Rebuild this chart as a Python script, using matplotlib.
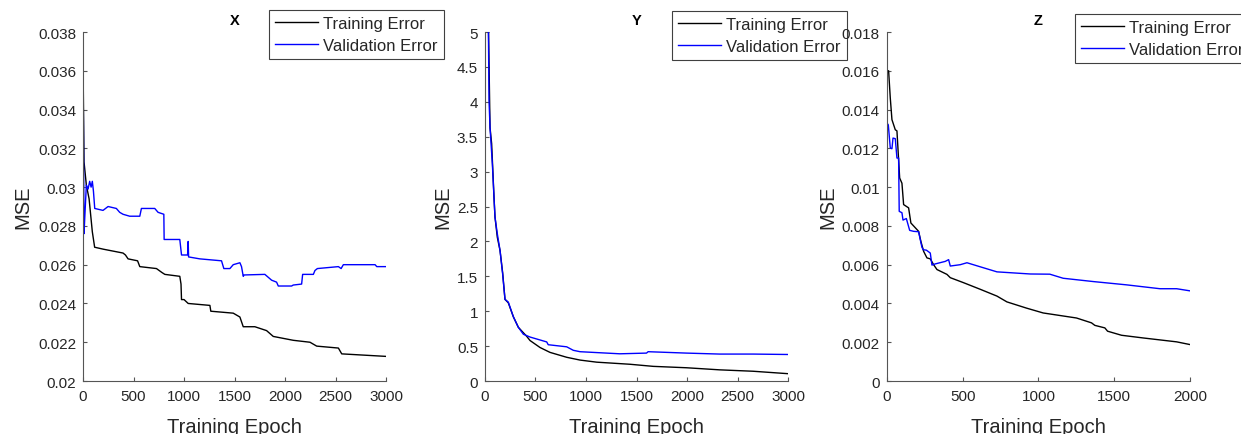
import matplotlib
matplotlib.use('Agg')
import matplotlib.pyplot as plt
from matplotlib.ticker import FuncFormatter

plt.rcParams['font.family'] = ['Liberation Sans', 'DejaVu Sans']

# ---- data ----
x_train_epoch = [0, 3, 10, 33, 60, 92, 115, 200, 396, 420, 446, 540, 562, 727, 780, 810, 958, 970, 975,
                 1000, 1041, 1256, 1265, 1487, 1553, 1586, 1701, 1817, 1883, 2081, 2247, 2313, 2528,
                 2561, 3000]
x_train_mse = [0.0364, 0.0349, 0.0313, 0.0301, 0.0294, 0.0277, 0.0269, 0.0268, 0.0266, 0.0265, 0.0263,
               0.0262, 0.0259, 0.0258, 0.0256, 0.0255, 0.0254, 0.0250, 0.0242, 0.0242, 0.0240, 0.0239,
               0.0236, 0.0235, 0.0233, 0.0228, 0.0228, 0.0226, 0.0223, 0.0221, 0.0220, 0.0218, 0.0217,
               0.0214, 0.02127]
x_val_epoch = [0, 2, 10, 17, 33, 50, 66, 80, 92, 103, 116, 198, 248, 330, 363, 396, 462, 562, 578, 710,
               743, 800, 803, 958, 975, 1035, 1041, 1045, 1156, 1371, 1394, 1454, 1487, 1553, 1569,
               1586, 1595, 1800, 1867, 1916, 1933, 2065, 2081, 2164, 2174, 2280, 2296, 2320, 2528,
               2555, 2577, 2891, 2908, 3000]
x_val_mse = [0.0277, 0.0349, 0.0276, 0.0284, 0.0301, 0.0299, 0.0303, 0.0300, 0.0303, 0.0298, 0.0289,
             0.0288, 0.0290, 0.0289, 0.0287, 0.0286, 0.0285, 0.0285, 0.0289, 0.0289, 0.0287, 0.0286,
             0.0273, 0.0273, 0.0265, 0.0265, 0.0272, 0.0264, 0.0263, 0.0262, 0.0258, 0.0258, 0.0260,
             0.0261, 0.0259, 0.0254, 0.02547, 0.0255, 0.0252, 0.0251, 0.0249, 0.0249, 0.02495, 0.0250,
             0.0255, 0.0255, 0.0257, 0.0258, 0.0259, 0.0258, 0.0260, 0.0260, 0.0259, 0.0259]

y_train_epoch = [33, 50, 66, 89, 99, 122, 149, 175, 198, 231, 281, 330, 413, 446, 545, 644, 809, 941,
                 1106, 1436, 1665, 1995, 2324, 2654, 3000]
y_train_mse = [5.2, 3.63, 3.40, 2.64, 2.35, 2.06, 1.87, 1.55, 1.17, 1.12, 0.92, 0.77, 0.64, 0.58, 0.48,
               0.41, 0.34, 0.30, 0.27, 0.24, 0.21, 0.19, 0.16, 0.14, 0.105]
y_val_epoch = [33, 40, 50, 73, 89, 99, 122, 149, 175, 198, 231, 281, 330, 380, 446, 611, 626, 809, 874,
               941, 1335, 1599, 1615, 1995, 2324, 2654, 3000]
y_val_mse = [5.2, 4.02, 3.63, 3.11, 2.64, 2.35, 2.11, 1.87, 1.53, 1.17, 1.13, 0.92, 0.77, 0.67, 0.63,
             0.56, 0.52, 0.49, 0.44, 0.42, 0.39, 0.40, 0.42, 0.40, 0.386, 0.386, 0.38]

z_train_epoch = [0, 11, 22, 33, 55, 66, 84, 99, 110, 143, 158, 209, 224, 242, 264, 286, 308, 330, 396,
                 418, 506, 616, 726, 792, 921, 1031, 1251, 1350, 1372, 1438, 1456, 1548, 1692, 1912,
                 2000]
z_train_mse = [0.0160, 0.0160, 0.0146, 0.01348, 0.01296, 0.01290, 0.01047, 0.0102, 0.0091, 0.00893,
               0.00815, 0.00772, 0.0072, 0.00669, 0.00635, 0.0063, 0.0060, 0.00575, 0.0055, 0.00533,
               0.00507, 0.00473, 0.00438, 0.00408, 0.00376, 0.00351, 0.00325, 0.0030, 0.00287,
               0.00274, 0.00257, 0.00236, 0.00222, 0.00202, 0.00188]
z_val_epoch = [0, 9, 22, 33, 40, 55, 66, 77, 81, 99, 106, 128, 150, 176, 209, 220, 231, 240, 260, 286,
               297, 319, 385, 407, 418, 484, 528, 616, 726, 946, 1075, 1163, 1361, 1581, 1802, 1912,
               2000]
z_val_mse = [0.01331, 0.01321, 0.01202, 0.01198, 0.01253, 0.01250, 0.0115, 0.0115, 0.00875, 0.00868,
             0.0083, 0.00838, 0.00777, 0.00772, 0.0077, 0.00729, 0.0069, 0.00677, 0.00675, 0.0066,
             0.00598, 0.00604, 0.00617, 0.00626, 0.00593, 0.006, 0.0061, 0.00589, 0.00563, 0.00552,
             0.00551, 0.0053, 0.00513, 0.00496, 0.00476, 0.00476, 0.00465]

titles = ['X', 'Y', 'Z']
x_ticks = [[0, 500, 1000, 1500, 2000, 2500, 3000],
           [0, 500, 1000, 1500, 2000, 2500, 3000],
           [0, 500, 1000, 1500, 2000]]
y_ticks = [[0.02 + 0.002 * i for i in range(10)],
           [0.5 * i for i in range(11)],
           [0.002 * i for i in range(10)]]

panels = [
    (x_train_epoch, x_train_mse, x_val_epoch, x_val_mse),
    (y_train_epoch, y_train_mse, y_val_epoch, y_val_mse),
    (z_train_epoch, z_train_mse, z_val_epoch, z_val_mse),
]

ax_left = [0.0669, 0.3908, 0.7147]
ylabel_x = [-0.168, -0.109, -0.165]
legend_anchor = [(0.2168, 0.9747), (0.5415, 0.9724), (0.8662, 0.9655)]

dark = '#262626'
fig = plt.figure(figsize=(12.41, 4.35), dpi=100)

for i in range(3):
    ax = fig.add_axes([ax_left[i], 0.1218, 0.2442, 0.8023])
    te, tm, ve, vm = panels[i]
    ax.plot(te, tm, color='black', lw=1.0, label='Training Error')
    ax.plot(ve, vm, color='#0000ff', lw=1.0, label='Validation Error')

    ax.set_xlim(x_ticks[i][0], x_ticks[i][-1])
    ax.set_ylim(y_ticks[i][0], y_ticks[i][-1])
    ax.set_xticks(x_ticks[i])
    ax.set_yticks(y_ticks[i])
    ax.yaxis.set_major_formatter(FuncFormatter(lambda v, p: '%g' % round(v, 6)))

    for s in ['top', 'right']:
        ax.spines[s].set_visible(False)
    for s in ['left', 'bottom']:
        ax.spines[s].set_color('#555555')
        ax.spines[s].set_linewidth(0.8)
    ax.tick_params(direction='in', length=3, width=0.8, color='#555555', labelcolor=dark,
                   labelsize=11)
    ax.tick_params(axis='x', pad=6)
    ax.tick_params(axis='y', pad=5)

    ax.set_xlabel('Training Epoch', fontsize=14.5, color=dark)
    ax.set_ylabel('MSE', fontsize=14.5, color=dark)
    ax.xaxis.set_label_coords(0.5, -0.103)
    ax.yaxis.set_label_coords(ylabel_x[i], 0.5)
    ax.set_title(titles[i], fontsize=10.5, fontweight='bold', pad=6)

    leg = ax.legend(loc='upper left', bbox_to_anchor=legend_anchor[i],
                    bbox_transform=fig.transFigure, fontsize=12, frameon=True,
                    fancybox=False, framealpha=1, edgecolor='#404040', borderpad=0.35,
                    labelspacing=0.42, handlelength=2.6, handletextpad=0.3,
                    borderaxespad=0)
    leg.get_frame().set_linewidth(0.8)
    for t in leg.get_texts():
        t.set_color(dark)

fig.savefig('out.png', dpi=100)
